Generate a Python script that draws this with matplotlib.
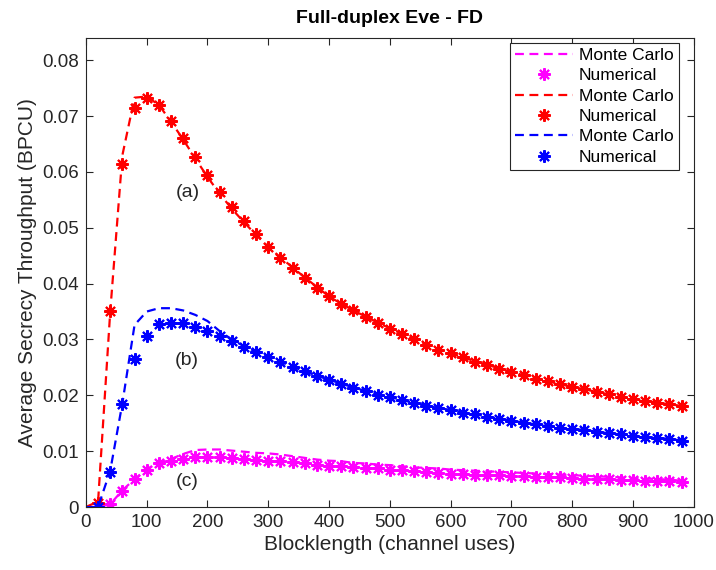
import matplotlib
matplotlib.use("Agg")
import matplotlib.pyplot as plt

plt.rcParams['font.family'] = ['Liberation Sans', 'DejaVu Sans']

# blocklength grid
n_num = list(range(20, 1000, 20))
n_mc = list(range(0, 1000, 20))

# (a) numerical
red_num = [0.0008, 0.0351, 0.0615, 0.0714, 0.0733, 0.0719, 0.0692, 0.0661, 0.0627, 0.0595,
           0.0564, 0.0537, 0.0512, 0.0488, 0.0466, 0.0446, 0.0428, 0.0410, 0.0393, 0.0378,
           0.0364, 0.0352, 0.0341, 0.0330, 0.0318, 0.0310, 0.0300, 0.0291, 0.0282, 0.0275,
           0.0268, 0.0260, 0.0255, 0.0248, 0.0242, 0.0236, 0.0229, 0.0225, 0.0220, 0.0215,
           0.0211, 0.0206, 0.0202, 0.0197, 0.0194, 0.0190, 0.0187, 0.0184, 0.0181]
# (b) numerical
blue_num = [0.0, 0.0063, 0.0184, 0.0265, 0.0306, 0.0327, 0.0330, 0.0329, 0.0323, 0.0315,
            0.0306, 0.0297, 0.0287, 0.0278, 0.0269, 0.0260, 0.0250, 0.0243, 0.0235, 0.0227,
            0.0221, 0.0213, 0.0208, 0.0200, 0.0197, 0.0191, 0.0187, 0.0181, 0.0177, 0.0174,
            0.0169, 0.0166, 0.0162, 0.0158, 0.0154, 0.0151, 0.0148, 0.0145, 0.0142, 0.0140,
            0.0138, 0.0135, 0.0132, 0.0130, 0.0128, 0.0126, 0.0124, 0.0122, 0.0119]
# (c) numerical
mag_num = [0.0, 0.0005, 0.0029, 0.0050, 0.0067, 0.0078, 0.0082, 0.0086, 0.0089, 0.0089,
           0.0089, 0.0087, 0.0086, 0.0085, 0.0083, 0.0082, 0.0080, 0.0079, 0.0075, 0.0074,
           0.0073, 0.0071, 0.0070, 0.0069, 0.0067, 0.0066, 0.0064, 0.0063, 0.0061, 0.0060,
           0.0060, 0.0058, 0.0058, 0.0057, 0.0056, 0.0055, 0.0054, 0.0053, 0.0053, 0.0052,
           0.0051, 0.0050, 0.0050, 0.0049, 0.0048, 0.0047, 0.0047, 0.0046, 0.0045]

# Monte Carlo runs
red_mc = [0.0, 0.0010, 0.0350, 0.0630, 0.0733, 0.0735, 0.0720, 0.0690, 0.0658, 0.0624,
          0.0591, 0.0561, 0.0534, 0.0510, 0.0487, 0.0466, 0.0447, 0.0429, 0.0411, 0.0394,
          0.0377, 0.0364, 0.0352, 0.0341, 0.0330, 0.0320, 0.0310, 0.0300, 0.0291, 0.0283,
          0.0275, 0.0268, 0.0261, 0.0255, 0.0248, 0.0242, 0.0236, 0.0230, 0.0225, 0.0220,
          0.0215, 0.0211, 0.0206, 0.0202, 0.0198, 0.0194, 0.0190, 0.0187, 0.0184, 0.0181]
blue_mc = [0.0, 0.0, 0.0065, 0.0186, 0.0326, 0.0350, 0.0356, 0.0356, 0.0352, 0.0344,
           0.0333, 0.0315, 0.0300, 0.0288, 0.0278, 0.0269, 0.0260, 0.0251, 0.0243, 0.0235,
           0.0228, 0.0221, 0.0214, 0.0208, 0.0201, 0.0197, 0.0191, 0.0187, 0.0182, 0.0177,
           0.0174, 0.0170, 0.0166, 0.0162, 0.0158, 0.0155, 0.0151, 0.0148, 0.0145, 0.0142,
           0.0140, 0.0138, 0.0135, 0.0132, 0.0130, 0.0128, 0.0126, 0.0124, 0.0122, 0.0119]
mag_mc = [0.0, 0.0, 0.0005, 0.0030, 0.0050, 0.0068, 0.0079, 0.0086, 0.0095, 0.0102,
          0.0103, 0.0103, 0.0101, 0.0099, 0.0097, 0.0096, 0.0094, 0.0091, 0.0088, 0.0085,
          0.0083, 0.0082, 0.0079, 0.0078, 0.0076, 0.0075, 0.0073, 0.0071, 0.0070, 0.0069,
          0.0067, 0.0066, 0.0065, 0.0064, 0.0063, 0.0062, 0.0061, 0.0060, 0.0059, 0.0058,
          0.0057, 0.0056, 0.0055, 0.0054, 0.0053, 0.0052, 0.0051, 0.0050, 0.0049, 0.0047]

curves = [(mag_mc, mag_num, '#ff00ff'), (red_mc, red_num, '#ff0000'), (blue_mc, blue_num, '#0000ff')]
tags = [('(a)', 168, 0.0564), ('(b)', 166, 0.0263), ('(c)', 166, 0.0045)]

fig = plt.figure(figsize=(7.16, 5.70), dpi=100)
ax = fig.add_axes([0.120, 0.1105, 0.849, 0.823])

star = (8, 2, 0)
for mc, num, col in curves:
    ax.plot(n_mc, mc, '--', color=col, lw=1.6, dashes=(4, 2.5), label='Monte Carlo')
    ax.plot(n_num, num, ls='none', marker=star, ms=9, mew=1.5, color=col, label='Numerical')

for txt, x, y in tags:
    ax.text(x, y, txt, ha='center', va='center', fontsize=14, color='#262626')

ax.set_xlim(0, 1000)
ax.set_ylim(0, 0.084)
ax.set_xticks(range(0, 1001, 100))
yt = [i / 100 for i in range(9)]
ax.set_yticks(yt)
ax.set_yticklabels(['0'] + ['%.2f' % v for v in yt[1:]])
ax.tick_params(direction='in', length=5, width=0.8, color='#262626', labelsize=13.5,
               top=True, right=True, labelcolor='#262626', pad=5)
for s in ax.spines.values():
    s.set_color('#262626')
    s.set_linewidth(0.8)

ax.set_xlabel('Blocklength (channel uses)', fontsize=15, color='#262626', labelpad=3)
ax.set_ylabel('Average Secrecy Throughput (BPCU)', fontsize=15, color='#262626', labelpad=4)
ax.set_title('Full-duplex Eve - FD', fontsize=14, fontweight='bold', pad=11)

leg = ax.legend(loc='upper right', bbox_to_anchor=(0.975, 0.99), fontsize=12.5,
                fancybox=False, edgecolor='#262626', framealpha=1, handlelength=3.3,
                borderaxespad=0, labelspacing=0.3, borderpad=0.3, handletextpad=0.35)
leg.get_frame().set_linewidth(0.8)

fig.savefig('out.png', dpi=100)
